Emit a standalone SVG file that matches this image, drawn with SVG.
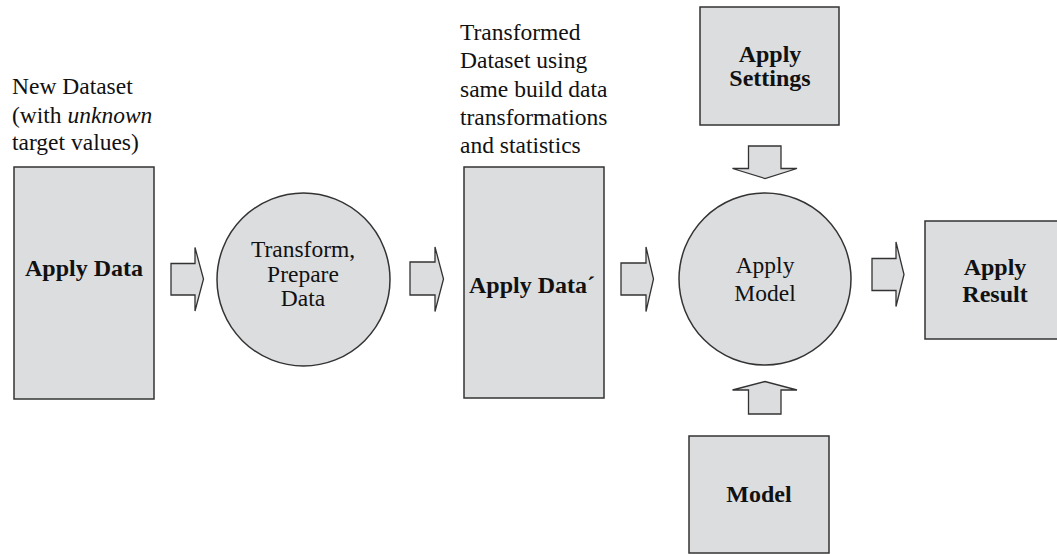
<svg xmlns="http://www.w3.org/2000/svg" width="1057" height="554" viewBox="0 0 1057 554">
<style>
.box{fill:#dcdddf;stroke:#333;stroke-width:1.5}
.arr{fill:#dcdddf;stroke:#333;stroke-width:1.3;stroke-linejoin:miter}
text{font-family:'Liberation Serif','Tinos','Times New Roman','DejaVu Serif',serif;font-size:23.5px;fill:#111}
.b{font-weight:bold;font-size:24px}
</style>
<rect width="1057" height="554" fill="#fff"/>
<g id="label-new-dataset">
<text x="12" y="94">New Dataset</text>
<text x="12" y="123">(with <tspan font-style="italic">unknown</tspan></text>
<text x="12" y="150">target values)</text>
</g>
<g id="label-transformed">
<text x="460" y="40">Transformed</text>
<text x="460" y="68">Dataset using</text>
<text x="460" y="97">same build data</text>
<text x="460" y="125">transformations</text>
<text x="460" y="153">and statistics</text>
</g>
<g id="apply-data">
<rect class="box" x="14" y="167" width="140" height="232"/>
<text class="b" x="84" y="276" text-anchor="middle">Apply Data</text>
</g>
<g id="transform">
<circle class="box" cx="303.5" cy="279.5" r="86.5"/>
<text x="303" y="257" text-anchor="middle">Transform,</text>
<text x="303" y="282" text-anchor="middle">Prepare</text>
<text x="303" y="306" text-anchor="middle">Data</text>
</g>
<g id="apply-data-prime">
<rect class="box" x="464" y="167" width="140" height="231"/>
<text class="b" x="532" y="293" text-anchor="middle">Apply Data´</text>
</g>
<g id="apply-settings">
<rect class="box" x="700" y="7" width="139" height="118"/>
<text class="b" x="770" y="62" text-anchor="middle">Apply</text>
<text class="b" x="770" y="86" text-anchor="middle">Settings</text>
</g>
<g id="apply-model">
<circle class="box" cx="765" cy="279" r="86"/>
<text x="765" y="273" text-anchor="middle">Apply</text>
<text x="765" y="301" text-anchor="middle">Model</text>
</g>
<g id="apply-result">
<rect class="box" x="925" y="221" width="140" height="118"/>
<text class="b" x="995" y="275" text-anchor="middle">Apply</text>
<text class="b" x="995" y="302" text-anchor="middle">Result</text>
</g>
<g id="model">
<rect class="box" x="689" y="436" width="140" height="117"/>
<text class="b" x="759" y="502" text-anchor="middle">Model</text>
</g>
<g id="connectors">
<path class="arr" d="M171,263.5 H195 V247.5 L203.5,279 L195,311 V295 H171 Z"/>
<path class="arr" d="M410,262 H435 V247 L443.5,279 L435,311.5 V295 H410 Z"/>
<path class="arr" d="M621,263 H646 V247 L653.5,279 L646,311.5 V295 H621 Z"/>
<path class="arr" d="M872,258.5 H896 V242 L904,274.5 L896,306.5 V290.5 H872 Z"/>
<path class="arr" d="M748.5,146 H781 V168.5 H797 L765,178.5 L732.5,168.5 H748.5 Z"/>
<path class="arr" d="M748.5,414 H781 V390 H797 L765,381.5 L732.5,390 H748.5 Z"/>
</g>
</svg>
